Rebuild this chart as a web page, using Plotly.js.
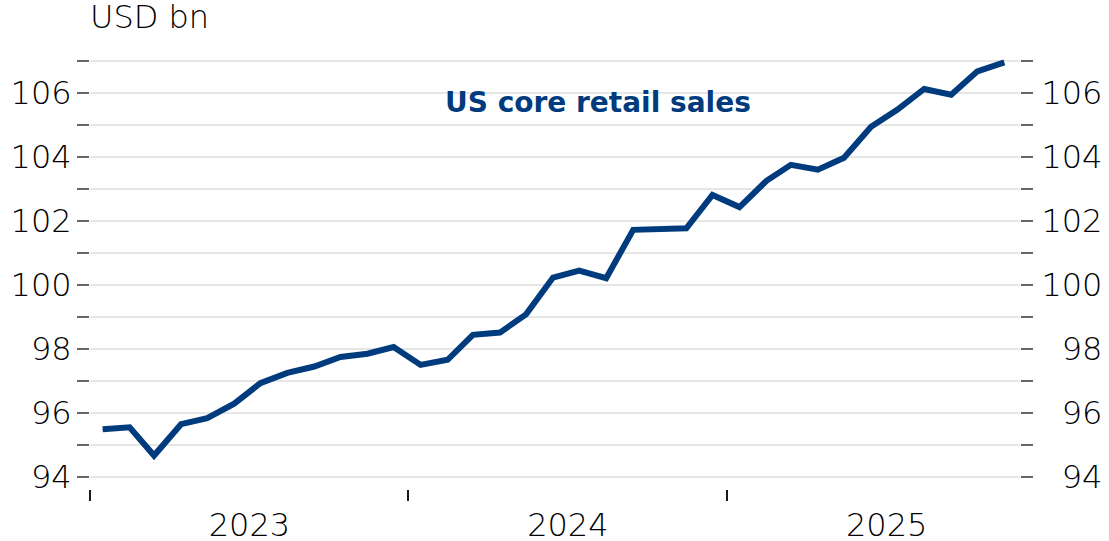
<!DOCTYPE html>
<html>
<head>
<meta charset="utf-8">
<script src="https://cdn.plot.ly/plotly-3.0.1.min.js"></script>
<style>
html,body{margin:0;padding:0;background:#fff;}
#chart{width:1109px;height:541px;}
</style>
</head>
<body>
<div id="chart"></div>
<script>
// Monthly data, Jan 2023 - Nov 2025 (plotted mid-month)
const months = [
  '2023-01-15','2023-02-15','2023-03-15','2023-04-15','2023-05-15','2023-06-15',
  '2023-07-15','2023-08-15','2023-09-15','2023-10-15','2023-11-15','2023-12-15',
  '2024-01-15','2024-02-15','2024-03-15','2024-04-15','2024-05-15','2024-06-15',
  '2024-07-15','2024-08-15','2024-09-15','2024-10-15','2024-11-15','2024-12-15',
  '2025-01-15','2025-02-15','2025-03-15','2025-04-15','2025-05-15','2025-06-15',
  '2025-07-15','2025-08-15','2025-09-15','2025-10-15','2025-11-15'
];
const coreRetailSales = [
  95.49, 95.55, 94.67, 95.65, 95.84, 96.29, 96.93, 97.25, 97.45, 97.75, 97.85, 98.06,
  97.50, 97.66, 98.44, 98.51, 99.08, 100.23, 100.45, 100.21, 101.72, 101.74, 101.77, 102.81,
  102.43, 103.25, 103.75, 103.60, 103.97, 104.94, 105.47, 106.12, 105.94, 106.67, 106.95
];
const yTickVals = [94,95,96,97,98,99,100,101,102,103,104,105,106,107];
const yTickTextLeft = ['94','','96','','98','','100','','102','','104','','106',''];
const yTickTextRight = ['\u200794','','\u200796','','\u200798','','100','','102','','104','','106',''];
const xTickStart = '2023-01-01';
const seriesLabel = 'US core retail sales';
const unitLabel = 'USD bn';

const lineColor = '#003b7e';
const fontFam = '"DejaVu Sans", sans-serif';
const labelFont = {family: fontFam, size: 32, color: '#000000', weight: 200};

const traces = [
  {x: months, y: coreRetailSales, type: 'scatter', mode: 'lines',
   line: {color: lineColor, width: 6, shape: 'linear'}, hoverinfo: 'skip', showlegend: false},
  {x: months, y: coreRetailSales, type: 'scatter', mode: 'lines', yaxis: 'y2',
   line: {color: lineColor, width: 0}, opacity: 0, hoverinfo: 'skip', showlegend: false}
];

const yCommon = {
  range: [93.625, 107.15],
  tickmode: 'array',
  tickvals: yTickVals,
  ticks: 'outside', ticklen: 12, tickwidth: 1.5, tickcolor: '#666666',
  showgrid: true, gridcolor: '#e6e6e6', gridwidth: 1.5,
  zeroline: false, showline: false,
  tickfont: labelFont,
  fixedrange: true
};

const layout = {
  width: 1109, height: 541,
  margin: {l: 90, r: 89, t: 56, b: 52},
  paper_bgcolor: '#ffffff', plot_bgcolor: '#ffffff',
  showlegend: false,
  xaxis: {
    type: 'date',
    range: ['2022-12-31 12:00', '2025-12-03'],
    tickmode: 'linear',
    tick0: xTickStart,
    dtick: 'M12',
    tickformat: '%Y',
    ticklabelmode: 'period',
    ticklabelstandoff: -3,
    ticks: 'outside', ticklen: 11, tickwidth: 2, tickcolor: '#1a1a1a',
    showgrid: false, zeroline: false, showline: false,
    tickfont: labelFont,
    fixedrange: true
  },
  yaxis: Object.assign({}, yCommon, {side: 'left', ticktext: yTickTextLeft, ticklabelstandoff: -1}),
  yaxis2: Object.assign({}, yCommon, {side: 'right', overlaying: 'y', ticktext: yTickTextRight, showgrid: false, ticklabelstandoff: 2}),
  annotations: [
    {text: seriesLabel, xref: 'paper', yref: 'paper', x: 0.3795, y: 0.8925,
     xanchor: 'left', yanchor: 'middle', showarrow: false,
     font: {family: fontFam, size: 28, color: lineColor, weight: 700}},
    {text: unitLabel, xref: 'paper', yref: 'paper', x: -0.002, y: 1.09,
     xanchor: 'left', yanchor: 'middle', showarrow: false,
     font: labelFont}
  ]
};

Plotly.newPlot('chart', traces, layout, {displayModeBar: false, staticPlot: true});
</script>
</body>
</html>
